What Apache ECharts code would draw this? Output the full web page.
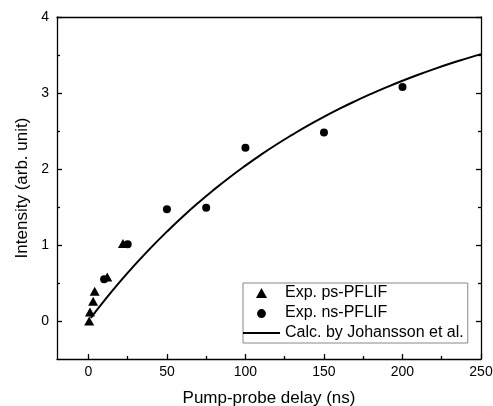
<!DOCTYPE html>
<html>
<head>
<meta charset="utf-8">
<script src="https://cdn.jsdelivr.net/npm/echarts@6/dist/echarts.min.js"></script>
<style>html,body{margin:0;padding:0;background:#fff;}#c{width:493px;height:406px;}</style>
</head>
<body>
<div id="c"></div>
<script>
// ---- data ----
const psDelay = [0.5, 1, 3, 4, 12, 22];
const psIntensity = [0.0, 0.12, 0.26, 0.39, 0.58, 1.02];
const nsDelay = [10, 25, 50, 75, 100, 150, 200];
const nsIntensity = [0.55, 1.01, 1.47, 1.49, 2.28, 2.48, 3.08];
const calcDelay = [1.5, 10, 20, 30, 40, 50, 60, 70, 80, 90, 100, 110, 120, 130, 140, 150, 160, 170, 180, 190, 200, 210, 220, 230, 240, 250];
const calcIntensity = [0.04, 0.265, 0.514, 0.748, 0.969, 1.176, 1.372, 1.556, 1.729, 1.892, 2.045, 2.19, 2.326, 2.453, 2.574, 2.687, 2.794, 2.894, 2.988, 3.077, 3.161, 3.24, 3.314, 3.384, 3.449, 3.511];
const xMajorTicks = [0, 50, 100, 150, 200, 250];
const xMinorTicks = [25, 75, 125, 175, 225];
const yMajorTicks = [0, 1, 2, 3, 4];
const yMinorTicks = [0.5, 1.5, 2.5, 3.5];
const seriesNames = ['Exp. ps-PFLIF', 'Exp. ns-PFLIF', 'Calc. by Johansson et al.'];
const xTitle = 'Pump-probe delay (ns)';
const yTitle = 'Intensity (arb. unit)';

const zip = (a, b) => a.map((v, i) => [v, b[i]]);
const FONT = 'Liberation Sans, Arial, sans-serif';
const lineSt = { color: '#000', width: 1.3 };
const XR = { min: -20, max: 250 };
const YR = { min: -0.5, max: 4 };

function xAx(extra) {
  return Object.assign({ type: 'value', min: XR.min, max: XR.max, splitLine: { show: false },
    axisLine: { show: false, onZero: false, lineStyle: lineSt },
    axisTick: { show: false }, axisLabel: { show: false } }, extra);
}
function yAx(extra) {
  return Object.assign({ type: 'value', min: YR.min, max: YR.max, splitLine: { show: false },
    axisLine: { show: false, onZero: false, lineStyle: lineSt },
    axisTick: { show: false }, axisLabel: { show: false } }, extra);
}

const chart = echarts.init(document.getElementById('c'), null, { renderer: 'canvas' });
chart.setOption({
  animation: false,
  backgroundColor: '#fff',
  grid: { left: 57, right: 12, top: 17, bottom: 47, containLabel: false, outerBoundsMode: 'none' },
  xAxis: [
    xAx({ position: 'bottom',
      axisLine: { show: true, onZero: false, lineStyle: lineSt },
      axisTick: { show: true, inside: true, length: 5, customValues: xMajorTicks, lineStyle: lineSt },
      axisLabel: { show: true, customValues: xMajorTicks, fontSize: 14, color: '#000', fontFamily: FONT, margin: 6 },
      name: xTitle, nameLocation: 'middle', nameGap: 31,
      nameTextStyle: { fontSize: 17, color: '#000', fontFamily: FONT } }),
    xAx({ position: 'bottom',
      axisTick: { show: true, inside: true, length: 3, customValues: xMinorTicks, lineStyle: lineSt } }),
    xAx({ position: 'top', axisLine: { show: true, onZero: false, lineStyle: lineSt } })
  ],
  yAxis: [
    yAx({ position: 'left',
      axisLine: { show: true, onZero: false, lineStyle: lineSt },
      axisTick: { show: true, inside: true, length: 5, customValues: yMajorTicks, lineStyle: lineSt },
      axisLabel: { show: true, customValues: yMajorTicks, fontSize: 14, color: '#000', fontFamily: FONT, margin: 8 },
      name: yTitle, nameLocation: 'middle', nameGap: 26,
      nameTextStyle: { fontSize: 17, color: '#000', fontFamily: FONT } }),
    yAx({ position: 'left',
      axisTick: { show: true, inside: true, length: 3, customValues: yMinorTicks, lineStyle: lineSt } }),
    yAx({ position: 'right',
      axisLine: { show: true, onZero: false, lineStyle: lineSt },
      axisTick: { show: true, inside: true, length: 5, customValues: yMajorTicks, lineStyle: lineSt } }),
    yAx({ position: 'right',
      axisTick: { show: true, inside: true, length: 3, customValues: yMinorTicks, lineStyle: lineSt } })
  ],
  legend: {
    data: [
      { name: seriesNames[0], icon: 'path://M5,0 L10,9 L0,9 Z' },
      { name: seriesNames[1], icon: 'path://M4,0 A4,4 0 1 1 3.99,0 Z M0,-1 L0,-1' },
      { name: seriesNames[2], icon: 'path://M0,0 L38,0 L38,2 L0,2 Z' }
    ],
    orient: 'vertical',
    left: 243, top: 283,
    padding: [2, 4, 2, 0],
    itemWidth: 37, itemHeight: 10, itemGap: 4,
    symbolKeepAspect: true,
    borderColor: '#888', borderWidth: 1, backgroundColor: '#fff',
    textStyle: { fontSize: 16, color: '#000', fontFamily: FONT, lineHeight: 16 },
    z: 10
  },
  series: [
    { name: seriesNames[0], type: 'scatter', data: zip(psDelay, psIntensity),
      symbol: 'triangle', symbolSize: [10, 9], itemStyle: { color: '#000', opacity: 1 }, z: 3 },
    { name: seriesNames[1], type: 'scatter', data: zip(nsDelay, nsIntensity),
      symbol: 'circle', symbolSize: 8, itemStyle: { color: '#000', opacity: 1 }, z: 3 },
    { name: seriesNames[2], type: 'line', data: zip(calcDelay, calcIntensity),
      symbol: 'none', smooth: true, lineStyle: { color: '#000', width: 2 }, itemStyle: { color: '#000' }, z: 2 }
  ]
});
</script>
</body>
</html>
